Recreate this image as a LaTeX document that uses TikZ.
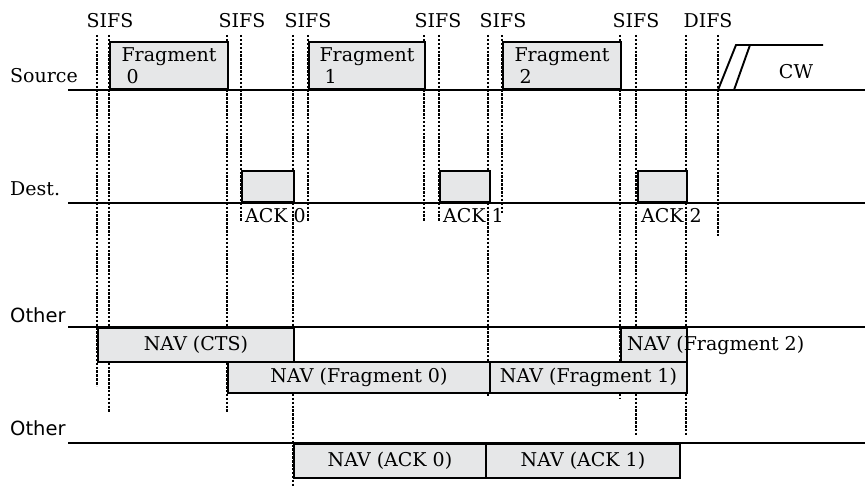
\documentclass[tikz,border=0pt]{standalone}
\usepackage{fontspec}
\setmainfont{DejaVu Serif}
\newfontfamily\othersans{DejaVu Sans}
\usepackage{tikz}
\usetikzlibrary{positioning}
\definecolor{framegray}{RGB}{230,231,232}

\begin{document}
\begin{tikzpicture}[x=1pt, y=-1pt,
    font=\fontsize{19}{22}\selectfont,
    timeline/.style={line width=1.9pt},
    ifs/.style={line width=1.8pt, dash pattern=on 2.5pt off 1.4pt},
    frame/.style={draw, line width=1.9pt, fill=framegray, inner sep=0pt},
    lbl/.style={inner sep=1pt}]

  \useasboundingbox (0,0) rectangle (865,487);

     % -------------------------
     % IFS markers (x / lower end)
     % -------------------------
      \foreach \x/\yb in {97/386, 109/412, 227/412, 241/222, 293/487, 308/222,
                          424/222, 439/222, 488/397, 502/213, 620/398, 636/435,
                          686/435, 718/237}
        \draw[ifs] (\x,35) -- (\x,\yb);

      % IFS labels
      \foreach \x [count=\i] in {110,242,308,438,503,636}
        \node[lbl] (sifs\i) at (\x,21) {SIFS};
      \node[lbl] (difs) at (708,21) {DIFS};

     % -------------------------
     % stations and time lines
     % -------------------------
      \node[lbl, anchor=west] (source) at (9,76) {Source};
      \node[lbl, anchor=west] (dest) at (9,189) {Dest.};
      \node[lbl, anchor=west, font=\othersans\fontsize{19.5}{22}\selectfont] (other1) at (9,315) {Other};
      \node[lbl, anchor=west, font=\othersans\fontsize{19.5}{22}\selectfont] (other2) at (9,428) {Other};

      \draw[timeline] (68,90) -- (865,90);
      \draw[timeline] (68,203) -- (865,203);
      \draw[timeline] (68,327) -- (865,327);
      \draw[timeline] (68,443) -- (865,443);

      % Fragments on the source
      \foreach \i/\x/\w in {0/109/118, 1/308/116, 2/502/118}
        \node[frame, minimum width=\w pt, minimum height=47pt, anchor=south west, align=left]
          (frag\i) at (\x,90) {Fragment\\\hspace*{5pt}\i};

      % ACKs on the destination
      \foreach \i/\x/\w in {0/241/52, 1/439/50, 2/637/49} {
        \node[frame, minimum width=\w pt, minimum height=31pt, anchor=south west]
          (ack\i) at (\x,203) {};
        \node[lbl, anchor=west] (acklbl\i) at ([xshift=3pt, yshift=-13pt]ack\i.south west) {ACK \i};
      }

      % Contention window
      \draw[timeline] (718,90) -- (736,45) -- (823,45);
      \draw[timeline] (734,90) -- (750,45);
      \node[lbl] (cw) at (796,72) {CW};

     % -------------------------
     % NAV of the other stations
     % -------------------------
      \node[frame, minimum width=196pt, minimum height=34pt, anchor=north west]
        (navcts) at (97,327) {NAV (CTS)};
      \node[frame, minimum width=262pt, minimum height=31pt, anchor=north west]
        (navf0) at (227,361) {NAV (Fragment 0)};
      \node[frame, minimum width=197pt, minimum height=31pt, anchor=north west]
        (navf1) at (489,361) {NAV (Fragment 1)};
      \node[frame, minimum width=66pt, minimum height=34pt, anchor=north west]
        (navf2) at (620,327) {};
      \node[lbl, anchor=west] (navf2lbl) at ([xshift=6pt]navf2.west) {NAV (Fragment 2)};

      \node[frame, minimum width=192pt, minimum height=34pt, anchor=north west]
        (navack0) at (293,443) {NAV (ACK 0)};
      \node[frame, minimum width=194pt, minimum height=34pt, anchor=north west]
        (navack1) at (485,443) {NAV (ACK 1)};
\end{tikzpicture}
\end{document}
